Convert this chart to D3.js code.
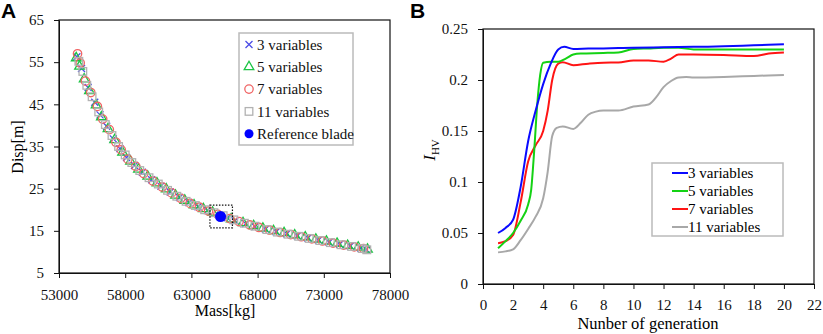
<!DOCTYPE html>
<html>
<head>
<meta charset="utf-8">
<script src="https://cdn.jsdelivr.net/npm/d3@7"></script>
<style>
  body { margin: 0; background: #fff; }
</style>
</head>
<body>
<svg id="chart" width="823" height="334"></svg>
<script>
// ---- panel A: pareto fronts, [mass kg, disp m]
const vars3 = [[54350,56.3],[54700,53.5],[55200,49.0],[55700,45.5],[56100,42.5],[56600,39.8],[57100,36.8],[57600,34.5],
  [58100,32.4],[58700,30.5],[59300,28.9],[60000,27.1],[60700,25.6],[61400,24.2],[62100,22.9],[62800,21.7],[63500,20.7],
  [64200,19.8],[65700,18.1],[66300,17.4],[67100,16.7],[67800,16.0],[68600,15.4],[69400,14.8],[70200,14.3],[71000,13.8],
  [71800,13.3],[72600,12.8],[73400,12.3],[74200,11.8],[75000,11.4],[75800,10.9],[76200,10.6]];
const vars5 = [[54300,56.0],[54550,54.0],[54900,51.0],[55300,48.2],[55800,44.8],[56200,42.0],[56700,39.2],[57200,36.6],
  [57800,33.6],[58400,31.5],[59000,29.6],[59700,27.9],[60400,26.3],[61100,24.9],[61800,23.4],[62500,22.2],[63200,21.1],
  [63900,20.2],[64600,19.4],[66000,17.8],[66900,16.9],[67700,16.2],[68400,15.6],[69200,15.0],[70000,14.5],[70800,14.0],
  [71600,13.5],[72400,13.0],[73200,12.5],[74000,12.0],[74800,11.5],[75600,11.1],[76300,10.6]];
const vars7 = [[54400,57.0],[54600,54.8],[55000,50.5],[55400,47.8],[55900,44.5],[56300,41.5],[56800,39.0],[57300,36.0],
  [57700,34.2],[58200,32.0],[58800,30.3],[59400,28.6],[60100,26.8],[60800,25.4],[61500,24.0],[62200,22.7],[62900,21.5],
  [63600,20.6],[64300,19.7],[65000,18.9],[65900,17.9],[66600,17.2],[67400,16.4],[68100,15.8],[68900,15.2],[69700,14.6],
  [70500,14.1],[71300,13.6],[72100,13.1],[72900,12.6],[73700,12.1],[74500,11.6],[75300,11.2],[76000,10.8]];
const vars11 = [[54500,55.2],[54800,52.8],[55100,49.5],[55500,46.8],[56000,43.2],[56500,40.2],[57000,37.6],[57500,35.0],
  [58000,33.0],[58500,31.2],[59100,29.3],[59800,27.6],[60500,26.1],[61200,24.6],[61900,23.2],[62600,22.0],[63300,21.0],
  [64000,20.0],[64700,19.3],[65400,18.6],[66200,17.6],[67000,16.8],[67800,16.1],[68700,15.3],[69500,14.7],[70300,14.2],
  [71100,13.7],[71900,13.2],[72700,12.7],[73500,12.2],[74300,11.7],[75100,11.3],[75900,10.8],[76250,10.5]];
const refBlade = [65200, 18.4];
const refBox = [64400, 66100, 15.7, 21.1]; // mass min/max, disp min/max
const massTicks = [53000, 58000, 63000, 68000, 73000, 78000];
const dispTicks = [5, 15, 25, 35, 45, 55, 65];
const legendA = ["3 variables", "5 variables", "7 variables", "11 variables", "Reference blade"];

// ---- panel B: hypervolume indicator per generation
const gen3 = [1,1.5,2,2.5,3,3.5,4,4.5,5,5.4,6,7,8,9,10,12,14,16,18,20];
const hv3  = [0.050,0.055,0.063,0.095,0.140,0.170,0.196,0.216,0.230,0.2325,0.2305,0.2308,0.231,0.2313,0.2315,0.232,0.2325,0.233,0.234,0.235];
const gen5 = [1,1.5,2,2.5,3,3.2,3.4,3.6,3.8,4,4.5,5,5.5,6,6.5,8,9,10,11,12,13,14,16,18,20];
const hv5  = [0.035,0.042,0.050,0.062,0.078,0.092,0.13,0.175,0.205,0.217,0.218,0.218,0.221,0.225,0.226,0.2265,0.227,0.2305,0.231,0.2315,0.2315,0.230,0.230,0.230,0.230];
const gen7 = [1,1.5,2,2.5,3,3.5,4,4.3,4.6,5,5.3,6,7,8,9,10,11,12,12.5,13,14,16,18,19,20];
const hv7  = [0.040,0.042,0.048,0.080,0.120,0.136,0.150,0.170,0.200,0.216,0.2175,0.2145,0.216,0.217,0.2172,0.219,0.219,0.218,0.221,0.225,0.225,0.2245,0.2235,0.226,0.227];
const gen11 = [1,1.5,2,2.5,3,3.5,4,4.3,4.6,4.9,5.3,6,6.5,7,7.5,8,9,10,11,11.5,12,12.5,13,13.5,14,16,18,20];
const hv11  = [0.031,0.032,0.034,0.043,0.054,0.066,0.084,0.110,0.145,0.153,0.1545,0.152,0.158,0.166,0.169,0.170,0.170,0.174,0.176,0.183,0.193,0.199,0.2025,0.203,0.2025,0.203,0.204,0.205];
const genTicks = [0,2,4,6,8,10,12,14,16,18,20,22];
const hvTicks = [0, 0.05, 0.1, 0.15, 0.2, 0.25];
const legendB = ["3 variables", "5 variables", "7 variables", "11 variables"];

const SERIF = '"Liberation Serif", "Times New Roman", serif';
const svg = d3.select('#chart').style('font-family', SERIF);

function styleAxis(g){
  g.attr('font-family', SERIF).attr('font-size', 15);
  g.selectAll('text').style('font-family', SERIF).style('font-size', '15px').attr('fill', '#111');
  g.selectAll('line, path').attr('stroke', '#111');
}

// ================= panel A
const a = {left: 59, right: 390, top: 20, bottom: 273};
const xA = d3.scaleLinear().domain([53000, 78000]).range([a.left, a.right]);
const yA = d3.scaleLinear().domain([5, 65]).range([a.bottom, a.top]);

svg.append('g')
   .attr('transform', `translate(0,${a.bottom})`)
   .call(d3.axisBottom(xA).tickValues(massTicks).tickFormat(d3.format('d'))
          .tickSize(5).tickSizeOuter(0).tickPadding(11))
   .call(styleAxis);
svg.append('g')
   .attr('transform', `translate(${a.left},0)`)
   .call(d3.axisLeft(yA).tickValues(dispTicks).tickSize(5).tickSizeOuter(0).tickPadding(10))
   .call(styleAxis);

svg.append('rect')
   .attr('x', a.left).attr('y', a.top)
   .attr('width', a.right - a.left).attr('height', a.bottom - a.top)
   .attr('fill', 'none').attr('stroke', '#111').attr('stroke-width', 1.2);

const crossPath = 'M-3.5,-3.5L3.5,3.5M-3.5,3.5L3.5,-3.5';
const triPath = d3.symbol(d3.symbolTriangle, 40)();
const markA = [
  {data: vars3, draw: g => g.append('path').attr('d', crossPath).attr('stroke', '#4d4de6')},
  {data: vars5, draw: g => g.append('path').attr('d', triPath).attr('stroke', '#1cc444')},
  {data: vars7, draw: g => g.append('circle').attr('r', 4.2).attr('stroke', '#f06464')},
  {data: vars11, draw: g => g.append('rect').attr('x', -3.8).attr('y', -3.8).attr('width', 7.6).attr('height', 7.6).attr('stroke', '#b2b2b2')}
];

markA.forEach(m => {
  const pts = svg.append('g').selectAll('g')
     .data(m.data)
     .join('g')
     .attr('transform', d => `translate(${xA(d[0])},${yA(d[1])})`)
     .attr('fill', 'none')
     .attr('stroke-width', 1.3);
  m.draw(pts);
});

svg.append('circle')
   .attr('cx', xA(refBlade[0])).attr('cy', yA(refBlade[1]))
   .attr('r', 5.5).attr('fill', '#0000ff');

svg.append('rect')
   .attr('x', xA(refBox[0])).attr('y', yA(refBox[3]))
   .attr('width', xA(refBox[1]) - xA(refBox[0]))
   .attr('height', yA(refBox[2]) - yA(refBox[3]))
   .attr('fill', 'none').attr('stroke', '#111')
   .attr('stroke-width', 1.2).attr('stroke-dasharray', '1.5,1.5');

// legend A
svg.append('rect')
   .attr('x', 239).attr('y', 33).attr('width', 114).attr('height', 112)
   .attr('fill', '#fff').attr('stroke', '#bbb').attr('stroke-width', 1.5);
const legA = svg.append('g').selectAll('g')
   .data(legendA)
   .join('g')
   .attr('transform', (d, i) => `translate(249,${44.5 + i * 22.3})`)
   .attr('fill', 'none').attr('stroke-width', 1.3);
markA.forEach((m, i) => m.draw(legA.filter((d, j) => j === i)));
legA.filter((d, j) => j === 4).append('circle').attr('r', 4.5).attr('fill', '#0000ff').attr('stroke', 'none');
legA.append('text')
   .attr('x', 8).attr('dy', '0.35em')
   .attr('fill', '#111').attr('stroke', 'none')
   .style('font-family', SERIF).style('font-size', '15px')
   .text(d => d);

svg.append('text')
   .attr('transform', 'translate(23,147) rotate(-90)')
   .attr('text-anchor', 'middle')
   .style('font-family', SERIF).style('font-size', '16px')
   .text('Disp[m]');
svg.append('text')
   .attr('x', 225).attr('y', 316)
   .attr('text-anchor', 'middle')
   .style('font-family', SERIF).style('font-size', '16px')
   .text('Mass[kg]');

// ================= panel B
const b = {left: 483, right: 814, top: 29, bottom: 284};
const xB = d3.scaleLinear().domain([0, 22]).range([b.left, b.right]);
const yB = d3.scaleLinear().domain([0, 0.25]).range([b.bottom, b.top]);

svg.append('g')
   .attr('transform', `translate(0,${b.bottom})`)
   .call(d3.axisBottom(xB).tickValues(genTicks).tickSize(5).tickSizeOuter(0).tickPadding(10))
   .call(styleAxis);
svg.append('g')
   .attr('transform', `translate(${b.left},0)`)
   .call(d3.axisLeft(yB).tickValues(hvTicks).tickFormat(d3.format('~g')).tickSize(5).tickSizeOuter(0).tickPadding(10))
   .call(styleAxis);

svg.append('rect')
   .attr('x', b.left).attr('y', b.top)
   .attr('width', b.right - b.left).attr('height', b.bottom - b.top)
   .attr('fill', 'none').attr('stroke', '#111').attr('stroke-width', 1.2);

const seriesB = [
  {gen: gen11, hv: hv11, color: '#a8a8a8'},
  {gen: gen7, hv: hv7, color: '#ff1414'},
  {gen: gen5, hv: hv5, color: '#14d214'},
  {gen: gen3, hv: hv3, color: '#0a0aff'}
];
const line = d3.line()
   .x(d => xB(d[0]))
   .y(d => yB(d[1]))
   .curve(d3.curveMonotoneX);

seriesB.forEach(s => {
  svg.append('path')
     .datum(s.gen.map((g, i) => [g, s.hv[i]]))
     .attr('d', line)
     .attr('fill', 'none')
     .attr('stroke', s.color)
     .attr('stroke-width', 2);
});

// legend B
svg.append('rect')
   .attr('x', 652).attr('y', 163).attr('width', 131).attr('height', 73)
   .attr('fill', '#fff').attr('stroke', '#bbb').attr('stroke-width', 1.5);
const legColors = ['#0a0aff', '#14d214', '#ff1414', '#a8a8a8'];
const legB = svg.append('g').selectAll('g')
   .data(legendB)
   .join('g')
   .attr('transform', (d, i) => `translate(672,${173 + i * 18})`);
legB.append('line')
   .attr('x1', 0).attr('x2', 16)
   .attr('stroke', (d, i) => legColors[i]).attr('stroke-width', 2);
legB.append('text')
   .attr('x', 16).attr('dy', '0.35em')
   .style('font-family', SERIF).style('font-size', '15px')
   .text(d => d);

const yLab = svg.append('text')
   .attr('transform', 'translate(435,150) rotate(-90)')
   .attr('text-anchor', 'middle')
   .style('font-family', SERIF);
yLab.append('tspan').style('font-style', 'italic').style('font-size', '17px').text('I');
yLab.append('tspan').attr('dy', 4).style('font-size', '11px').text('HV');

svg.append('text')
   .attr('x', 648).attr('y', 329)
   .attr('text-anchor', 'middle')
   .style('font-family', SERIF).style('font-size', '16.5px')
   .text('Nunber of generation');

// panel tags
svg.selectAll('text.tag')
   .data([['A', 1], ['B', 410]])
   .join('text')
   .attr('class', 'tag')
   .attr('x', d => d[1]).attr('y', 18)
   .style('font-family', '"Liberation Sans", Arial, sans-serif')
   .style('font-weight', 'bold').style('font-size', '21px')
   .text(d => d[0]);
</script>
</body>
</html>
